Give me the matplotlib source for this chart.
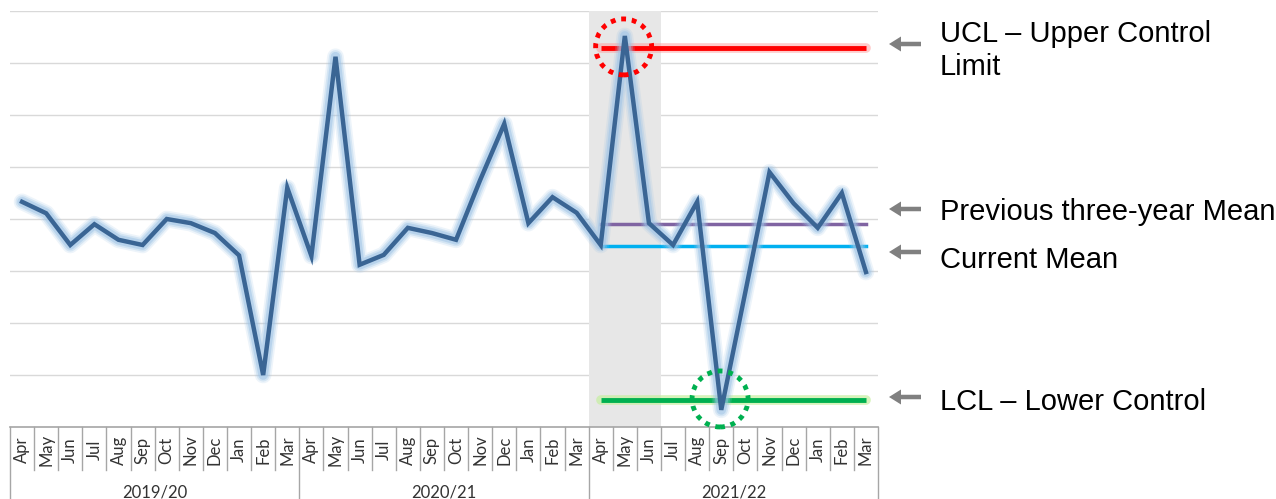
import matplotlib
matplotlib.use("Agg")
import matplotlib.pyplot as plt
from matplotlib.patches import Circle, FancyArrow
import numpy as np

# monthly values (Apr 2019 - Mar 2022)
months = ["Apr", "May", "Jun", "Jul", "Aug", "Sep", "Oct", "Nov", "Dec", "Jan", "Feb", "Mar"]
years = ["2019/20", "2020/21", "2021/22"]
values = [4.33, 4.11, 3.50, 3.90, 3.60, 3.50, 4.00, 3.92, 3.73, 3.30, 1.00, 4.60,
          3.29, 7.12, 3.12, 3.31, 3.83, 3.73, 3.60, 4.75, 5.83, 3.92, 4.42, 4.12,
          3.50, 7.52, 3.92, 3.50, 4.33, 0.33, 2.60, 4.90, 4.30, 3.83, 4.50, 2.98]
ucl = 7.29
lcl = 0.52
prev_mean = 3.90
curr_mean = 3.48
limit_start, limit_end = 24, 35      # current year only
shade_months = (24, 26)              # Apr-Jun 2021
circle_points = [25, 29]             # the two out-of-control points

labels = [
    ("UCL \u2013 Upper Control", "Limit"),
    ("Previous three-year Mean",),
    ("Current Mean",),
    ("LCL \u2013 Lower Control",),
]

W, H = 1276, 499
fig = plt.figure(figsize=(W / 100, H / 100), dpi=100)
x0, x1 = 10, 878
ytop, ybot = 11, 427
ax = fig.add_axes([x0 / W, (H - ybot) / H, (x1 - x0) / W, (ybot - ytop) / H])
n = len(values)
x = np.arange(n)
ax.set_xlim(-0.5, n - 0.5)
ax.set_ylim(0, 8)
for s in ax.spines.values():
    s.set_visible(False)
ax.set_xticks([])
ax.set_yticks([])
for g in range(1, 9):
    ax.axhline(g, color="#D9D9D9", lw=1, zorder=0)

ax.axvspan(shade_months[0] - 0.5, shade_months[1] + 0.5, color="#E7E7E7", zorder=0.5, lw=0)

lx = [limit_start, limit_end]
# control limits with soft glow
ax.plot(lx, [ucl, ucl], color="#FF9999", lw=7, alpha=0.5, solid_capstyle="round", zorder=2)
ax.plot(lx, [ucl, ucl], color="#FF0000", lw=3.5, solid_capstyle="butt", zorder=2.1)
ax.plot(lx, [lcl, lcl], color="#C6EFA0", lw=7, alpha=0.7, solid_capstyle="round", zorder=2)
ax.plot(lx, [lcl, lcl], color="#00B050", lw=3.5, solid_capstyle="butt", zorder=2.1)
ax.plot(lx, [prev_mean, prev_mean], color="#8064A2", lw=2.5, zorder=2)
ax.plot(lx, [curr_mean, curr_mean], color="#00B0F0", lw=2.5, zorder=2)

# main series with glow
for lw, a in [(12, 0.18), (9.5, 0.3), (7, 0.5)]:
    ax.plot(x, values, color="#9DC3E6", lw=lw, alpha=a, solid_joinstyle="round",
            solid_capstyle="round", zorder=3)
ax.plot(x, values, color="#3A6594", lw=3.2, solid_joinstyle="miter", zorder=4)

# dotted circles (drawn in pixel size so they stay round)
for idx, col, yv in zip(circle_points, ["#FF0000", "#00B050"], [ucl, lcl]):
    cx, cy = ax.transData.transform((idx - 0.05, yv))
    c = Circle((cx, cy + 1), 28, transform=None, fill=False, ec=col, lw=3.5,
               ls=(0, (1.0, 1.2)), zorder=5)
    fig.patches.append(c)

# category table below the plot
tab = fig.add_axes([x0 / W, 0, (x1 - x0) / W, (H - ybot) / H])
tab.set_xlim(-0.5, n - 0.5)
tab.set_ylim(0, H - ybot)
tab.axis("off")
top = H - ybot
lc = "#A6A6A6"
tab.plot([-0.5, n - 0.5], [top, top], color=lc, lw=1.2, clip_on=False)
for i in range(n + 1):
    xb = i - 0.5
    if i % 12 == 0:
        tab.plot([xb, xb], [0, top], color=lc, lw=1, clip_on=False)
    else:
        tab.plot([xb, xb], [top - 43, top], color=lc, lw=1, clip_on=False)
for i in range(n):
    tab.text(i, top - 23, months[i % 12], rotation=90, ha="center", va="center",
             fontsize=12, family="Lato", color="#333333")
for j, yr in enumerate(years):
    tab.text(j * 12 + 5.5, 6, yr, ha="center", va="center", fontsize=12,
             family="Lato", color="#333333")

# annotations on the right
arrow_y = [44, 209, 252, 397]
text_base = [42, 220, 268, 410]
for ay, tb, lab in zip(arrow_y, text_base, labels):
    fig.patches.append(FancyArrow(
        921, H - ay, -32, 0, width=4.5, head_width=15, head_length=12,
        length_includes_head=True, transform=None, color="#808080", lw=0))
    for k, line in enumerate(lab):
        fig.text(940 / W, (H - tb - 33 * k) / H, line, ha="left", va="baseline",
                 fontsize=21, family="Liberation Sans", color="#000000")

fig.savefig("out.png", dpi=100)
